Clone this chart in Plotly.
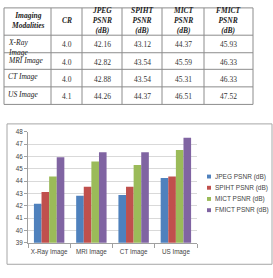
import plotly.graph_objects as go

modalities = ["X-Ray<br>Image", "MRI Image", "CT Image", "US Image"]
categories = ["X-Ray Image", "MRI Image", "CT Image", "US Image"]
cr = ["4.0", "4.0", "4.0", "4.1"]
jpeg = [42.16, 42.82, 42.88, 44.26]
spiht = [43.12, 43.54, 43.54, 44.37]
mict = [44.37, 45.59, 45.31, 46.51]
fmict = [45.93, 46.33, 46.33, 47.52]
headers = ["Imaging<br>Modalities", "CR", "JPEG<br>PSNR<br>(dB)", "SPIHT<br>PSNR<br>(dB)",
           "MICT<br>PSNR<br>(dB)", "FMICT<br>PSNR<br>(dB)"]
series_names = ["JPEG PSNR (dB)", "SPIHT PSNR (dB)", "MICT PSNR (dB)", "FMICT PSNR (dB)"]
colors = ["#4F81BD", "#C0504D", "#9BBB59", "#8064A2"]

W, H = 273, 278
col_edges = [4, 51, 82, 122, 162, 204, 253]
row_edges = [4, 32, 50, 67, 85, 103]


def px(x):
    return x / W


def py(y):
    return 1 - y / H


fig = go.Figure()
for name, vals, c in zip(series_names, [jpeg, spiht, mict, fmict], colors):
    fig.add_trace(go.Bar(x=categories, y=vals, name=name, showlegend=False,
                         marker=dict(color=c, line=dict(width=0))))

shapes = []
annotations = []
line_col = "#8c8c8c"
# table grid
for x in col_edges:
    shapes.append(dict(type="line", xref="paper", yref="paper", x0=px(x), x1=px(x),
                       y0=py(row_edges[0]), y1=py(row_edges[-1]), line=dict(color=line_col, width=1)))
for y in row_edges:
    shapes.append(dict(type="line", xref="paper", yref="paper", x0=px(col_edges[0]), x1=px(col_edges[-1]),
                       y0=py(y), y1=py(y), line=dict(color=line_col, width=1)))

serif = "Liberation Serif"
# header
for j, h in enumerate(headers):
    cx = (col_edges[j] + col_edges[j + 1]) / 2
    cy = (row_edges[0] + row_edges[1]) / 2 - 1
    annotations.append(dict(xref="paper", yref="paper", x=px(cx), y=py(cy), text="<b><i>" + h + "</i></b>",
                            showarrow=False, xanchor="center", yanchor="middle", align="center",
                            font=dict(family=serif, size=7.5, color="#222")))
# body
cols = [cr, [f"{v:.2f}" for v in jpeg], [f"{v:.2f}" for v in spiht],
        [f"{v:.2f}" for v in mict], [f"{v:.2f}" for v in fmict]]
for i, m in enumerate(modalities):
    top = row_edges[i + 1]
    bot = row_edges[i + 2]
    annotations.append(dict(xref="paper", yref="paper", x=px(col_edges[0] + 2), y=py(top + 1),
                            text="<i>" + m + "</i>", showarrow=False, xanchor="left", yanchor="top",
                            align="left", font=dict(family=serif, size=7.5, color="#222")))
    for j, col in enumerate(cols):
        cx = (col_edges[j + 1] + col_edges[j + 2]) / 2
        annotations.append(dict(xref="paper", yref="paper", x=px(cx), y=py((top + bot) / 2 + 1),
                                text=col[i], showarrow=False, xanchor="center", yanchor="middle",
                                font=dict(family=serif, size=7.5, color="#333")))

# chart frame
shapes.append(dict(type="rect", xref="paper", yref="paper", x0=px(7), x1=px(272), y0=py(267), y1=py(123),
                   line=dict(color="#a6a6a6", width=1)))
# legend
leg_y = [177, 188.5, 200, 211.5]
for name, c, y in zip(series_names, colors, leg_y):
    shapes.append(dict(type="rect", xref="paper", yref="paper", x0=px(207), x1=px(211), y0=py(y + 2),
                       y1=py(y - 2), fillcolor=c, line=dict(width=0)))
    annotations.append(dict(xref="paper", yref="paper", x=px(212.5), y=py(y), text=name, showarrow=False,
                            xanchor="left", yanchor="middle",
                            font=dict(family="Liberation Sans", size=6.5, color="#444")))

fig.update_layout(
    width=W, height=H, margin=dict(l=0, r=0, t=0, b=0),
    paper_bgcolor="white", plot_bgcolor="white",
    barmode="group", bargap=0.28, bargroupgap=0,
    font=dict(family="Liberation Sans", size=6, color="#444"),
    xaxis=dict(domain=[px(28), px(197)], showline=True, linecolor="#a0a0a0", linewidth=1,
               ticks="outside", tickson="boundaries", ticklen=4, tickcolor="#a0a0a0",
               tickangle=0, tickfont=dict(size=6.3), ticklabelstandoff=3),
    yaxis=dict(domain=[py(245), py(131)], range=[39, 48], dtick=1,
               showline=True, linecolor="#a0a0a0", linewidth=1,
               ticks="outside", ticklen=3, tickcolor="#a0a0a0",
               gridcolor="#d9d9d9", gridwidth=1, tickfont=dict(size=6.3)),
    shapes=shapes,
    annotations=annotations,
)

fig.write_html("out.html")
